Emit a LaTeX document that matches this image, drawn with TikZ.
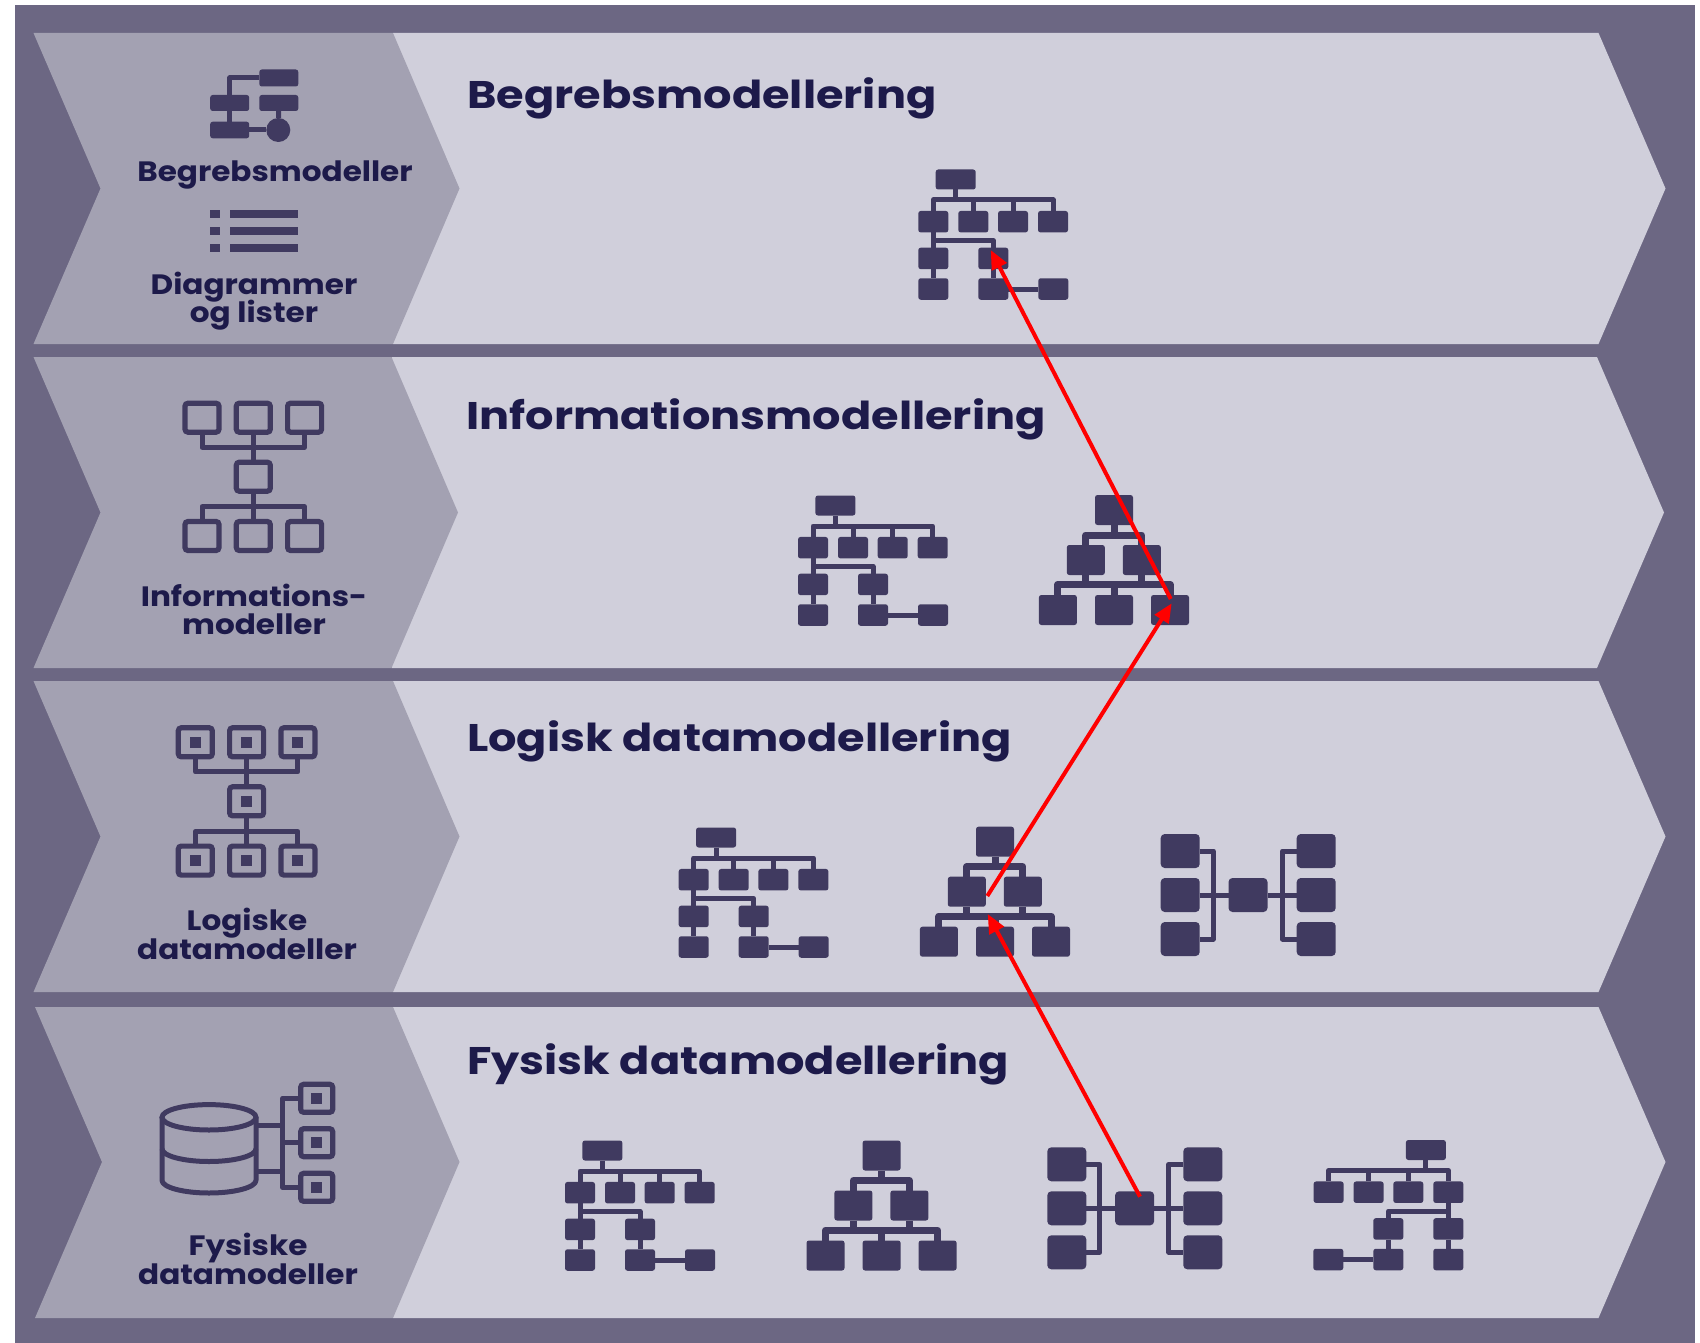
\documentclass[tikz,border=0pt]{standalone}
\usepackage{fontspec}
\setmainfont{Poppins}
\newfontfamily\headfont[FakeStretch = 1.16]{Poppins}
\newfontfamily\sidefont[FakeStretch = 1.11]{Poppins}
\usetikzlibrary{arrows.meta, calc, shapes.geometric}

\definecolor{backdrop}{RGB}{108,103,131}
\definecolor{chevdark}{RGB}{163,161,178}
\definecolor{chevlight}{RGB}{208,207,219}
\definecolor{iconcol}{RGB}{64,58,96}
\definecolor{inkcol}{RGB}{29,26,74}

\newcommand{\sidestyle}{\sidefont\bfseries\fontsize{28}{28.3}\selectfont\lineskiplimit=-100pt\relax}

\tikzset{
  iconbox/.style = {shape = rectangle,fill = iconcol,rounded corners = 2.5pt,inner sep = 0,outer sep = 0},
  treebox/.style = {iconbox,minimum width = 30pt,minimum height = 21.5pt},
  treehead/.style = {iconbox,minimum width = 40pt,minimum height = 20pt},
  bigbox/.style = {iconbox,minimum width = 38pt,minimum height = 30pt},
  starbox/.style = {iconbox,rounded corners = 4pt,minimum width = 39pt,minimum height = 34pt},
  outbox/.style = {shape = rectangle,draw = iconcol,line width = 5.2pt,rounded corners = 3pt,inner sep = 0,outer sep = 0,minimum width = 34pt,minimum height = 29pt},
  kernel/.style = {shape = rectangle,fill = iconcol,inner sep = 0,minimum size = 11pt},
  iconline/.style = {draw = iconcol,line width = 5pt,line join = round},
  fatline/.style = {draw = iconcol,line width = 7pt,line join = round},
  heading/.style = {text = inkcol,anchor = base west,inner sep = 0,font = \headfont\bfseries\fontsize{38.5}{38.5}\selectfont},
  sidetext/.style = {text = inkcol,anchor = base,inner sep = 0,align = center,font = \sidestyle},
  redarrow/.style = {draw = red,line width = 4pt,-{Triangle[length = 19pt,width = 16pt]}}
}

\newcommand{\treeicon}[3][]{
  \begin{scope}[shift = {(#3)},#1]
    \node[treehead] at (37.4,10) (#2t) {};
    \node[treebox] at (15,52.2) (#2a) {};
    \node[treebox] at (55,52.2) (#2b) {};
    \node[treebox] at (94.7,52.2) (#2c) {};
    \node[treebox] at (134.7,52.2) (#2d) {};
    \node[treebox] at (15,88.9) (#2e) {};
    \node[treebox] at (75,88.9) (#2f) {};
    \node[treebox] at (15,119.5) (#2g) {};
    \node[treebox] at (75,119.5) (#2h) {};
    \node[treebox] at (135,119.5) (#2i) {};
    \coordinate (#2u) at (37.4,30.5);
    \coordinate (#2v) at (15,71);
    \path[iconline] (#2a.north) |- (#2u) -| (#2d.north);
    \path[iconline] (#2t) -- (#2u);
    \path[iconline] (#2b.north) -- (#2b.north |- #2u);
    \path[iconline] (#2c.north) -- (#2c.north |- #2u);
    \path[iconline] (#2a.south) -- (#2e.north);
    \path[iconline] (#2e.south) -- (#2g.north);
    \path[iconline] (#2v) -| (#2f.north);
    \path[iconline] (#2f.south) -- (#2h.north);
    \path[iconline] (#2h) -- (#2i);
  \end{scope}
}

\newcommand{\pyramidicon}[2]{
  \begin{scope}[shift = {(#2)}]
    \node[bigbox] at (75,15) (#1t) {};
    \node[bigbox] at (46.8,65) (#1a) {};
    \node[bigbox] at (102.8,65) (#1b) {};
    \node[bigbox] at (18.9,115) (#1c) {};
    \node[bigbox] at (75,115) (#1d) {};
    \node[bigbox] at (131,115) (#1e) {};
    \coordinate (#1u) at (75,40);
    \coordinate (#1v) at (75,89.5);
    \path[fatline] (#1a.north) |- (#1u) -| (#1b.north);
    \path[fatline] (#1t) -- (#1u);
    \path[fatline] (#1c.north) |- (#1v) -| (#1e.north);
    \path[fatline] (#1a.south) -- (#1a.south |- #1v);
    \path[fatline] (#1b.south) -- (#1b.south |- #1v);
    \path[fatline] (#1d.north) -- (#1v);
  \end{scope}
}

\newcommand{\staricon}[2]{
  \begin{scope}[shift = {(#2)}]
    \node[starbox] at (19.5,17) (#1a) {};
    \node[starbox] at (19.5,61) (#1b) {};
    \node[starbox] at (19.5,105) (#1c) {};
    \node[starbox] at (87.3,61) (#1h) {};
    \node[starbox] at (155.5,17) (#1d) {};
    \node[starbox] at (155.5,61) (#1e) {};
    \node[starbox] at (155.5,105) (#1f) {};
    \coordinate (#1u) at (52.6,61);
    \coordinate (#1v) at (121.6,61);
    \path[iconline] (#1a) -| (#1u) |- (#1c);
    \path[iconline] (#1d) -| (#1v) |- (#1f);
    \path[iconline] (#1b) -- (#1h) -- (#1e);
  \end{scope}
}

\newcommand{\outlineicon}[2]{
  \begin{scope}[shift = {(#2)}]
    \node[outbox] at (0,0) (#1a) {};
    \node[outbox] at (51.3,0) (#1b) {};
    \node[outbox] at (102.6,0) (#1c) {};
    \node[outbox] at (51.3,59) (#1m) {};
    \node[outbox] at (0,118.3) (#1d) {};
    \node[outbox] at (51.3,118.3) (#1e) {};
    \node[outbox] at (102.6,118.3) (#1f) {};
    \coordinate (#1u) at (51.3,29.6);
    \coordinate (#1v) at (51.3,89);
    \path[iconline] (#1a.south) |- (#1u) -| (#1c.south);
    \path[iconline] (#1b.south) -- (#1m.north);
    \path[iconline] (#1d.north) |- (#1v) -| (#1f.north);
    \path[iconline] (#1m.south) -- (#1e.north);
  \end{scope}
}

\begin{document}
\begin{tikzpicture}[x = 1pt,y = -1pt]
    \useasboundingbox (0,0) rectangle (1700,1343);
    \fill[backdrop] (15,5) rectangle (1695,1343);

    \foreach \ytop/\ymid/\ybot/\dx/\lx in {33/188.5/344/0/33.5,357/512.5/668/-1.5/33.5,681/836.5/992/0/33.5,1007/1162/1318/0/35} {
      \fill[chevlight] (393+\dx,\ytop) -- (1598.5+\dx,\ytop) -- (1665.5+\dx,\ymid)
          -- (1598.5+\dx,\ybot) -- (393+\dx,\ybot) -- cycle;
      \fill[chevdark] (\lx,\ytop) -- (393+\dx,\ytop) -- (459.5+\dx,\ymid)
          -- (393+\dx,\ybot) -- (\lx,\ybot) -- (\lx+67,\ymid) -- cycle;
    }

    \node[heading] at (467,109) (titleA) {Begrebsmodellering};
    \node[heading] at (466,429) (titleB) {Informationsmodellering};
    \node[heading] at (467,751.5) (titleC) {Logisk datamodellering};
    \node[heading] at (467,1074) (titleD) {Fysisk datamodellering};

    \node[sidetext] at (275,181.5) (sideA) {Begrebsmodeller};
    \node[sidetext] at (254,322.5) (sideB) {Diagrammer\\og lister};
    \node[sidetext] at (254,634.5) (sideC) {Informations-\\modeller};
    \node[sidetext] at (247,959) (sideD) {Logiske\\datamodeller};
    \node[sidetext] at (248,1284) (sideE) {Fysiske\\datamodeller};

    % concept icon
    \node[iconbox,minimum width = 39pt,minimum height = 17pt] at (278.8,78) (conA) {};
    \node[iconbox,minimum width = 39pt,minimum height = 16pt] at (229.7,103) (conB) {};
    \node[iconbox,minimum width = 39pt,minimum height = 16pt] at (278.8,103) (conC) {};
    \node[iconbox,minimum width = 39pt,minimum height = 16.6pt] at (229.7,130) (conD) {};
    \node[shape = circle,fill = iconcol,inner sep = 0,minimum size = 24pt] at (278.3,130) (conE) {};
    \path[iconline] (conA) -| (conB.north);
    \path[iconline] (conB) -- (conD);
    \path[iconline] (conD) -- (conE);
    \path[iconline] (conC) -- (conE);

    % list icon
    \foreach \n/\y in {a/214,b/231,c/248} {
      \node[shape = rectangle,fill = iconcol,inner sep = 0,minimum width = 10pt,minimum height = 8.3pt] at (215,\y) (bullet\n) {};
      \node[shape = rectangle,fill = iconcol,inner sep = 0,minimum width = 68.3pt,minimum height = 8.3pt] at (264.2,\y) (bar\n) {};
    }

    \outlineicon{info}{202,417.7}
    \outlineicon{logi}{195.3,742.3}
    \foreach \n in {a,b,c,m,d,e,f} {
      \node[kernel] at (logi\n) (logiK\n) {};
    }

    % database icon
    \node[shape = ellipse,draw = iconcol,line width = 5pt,inner sep = 0,outer sep = 0,minimum width = 94pt,minimum height = 25.4pt] at (209,1117.3) (dbtop) {};
    \path[iconline] (dbtop.west) -- ++(0,63) arc[start angle = 180,end angle = 360,x radius = 47pt,y radius = 12.7pt] -- (dbtop.east);
    \path[iconline] ($(dbtop.west)+(0,31.5)$) arc[start angle = 180,end angle = 360,x radius = 47pt,y radius = 12.7pt];
    \node[outbox,minimum width = 32pt,minimum height = 28pt] at (316.7,1098.3) (dbA) {};
    \node[outbox,minimum width = 32pt,minimum height = 28pt] at (316.7,1142.7) (dbB) {};
    \node[outbox,minimum width = 32pt,minimum height = 28pt] at (316.7,1187.3) (dbC) {};
    \foreach \n in {A,B,C} {
      \node[kernel] at (db\n) (dbK\n) {};
    }
    \coordinate (dbU) at (282.7,1098.3);
    \coordinate (dbV) at (282.7,1187.3);
    \coordinate (dbP) at (256,1125);
    \coordinate (dbQ) at (256,1171.7);
    \path[iconline] (dbA.west) -- (dbU) -- (dbV) -- (dbC.west);
    \path[iconline] (dbB.west) -- (dbB.west -| dbU);
    \path[iconline] (dbP) -- (dbP -| dbU);
    \path[iconline] (dbQ) -- (dbQ -| dbU);

    \treeicon{rowAtree}{918.3,169.5}
    \treeicon{rowBtree}{798,495.5}
    \pyramidicon{rowBpyr}{1039,495}
    \treeicon{rowCtree}{678.7,827.5}
    \pyramidicon{rowCpyr}{920,826.7}
    \staricon{rowCstar}{1160.7,834}
    \treeicon{rowDtree}{565,1140.5}
    \pyramidicon{rowDpyr}{806.6,1140.5}
    \staricon{rowDstar}{1047.3,1147.3}
    \treeicon[xscale = -1]{rowDmirror}{1463.3,1140}

    \coordinate (redA) at (1140,1196.7);
    \coordinate (redB) at (987.7,914);
    \coordinate (redC) at (987.3,896);
    \coordinate (redD) at (1171.7,603.3);
    \coordinate (redE) at (1170.7,599);
    \coordinate (redF) at (990.7,250);
    \path[redarrow] (redA) -- (redB);
    \path[redarrow] (redC) -- (redD);
    \path[redarrow] (redE) -- (redF);
\end{tikzpicture}
\end{document}
